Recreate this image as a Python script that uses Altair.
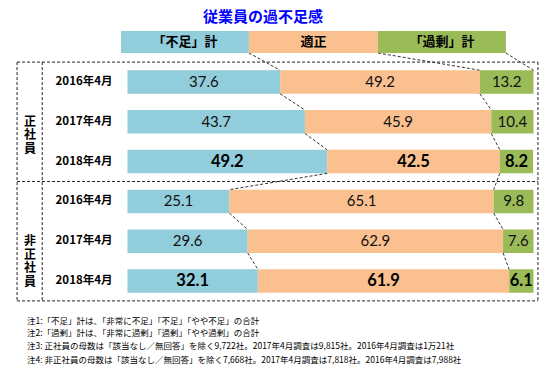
import altair as alt
import pandas as pd

# ---- data ----
periods = ["2016年4月", "2017年4月", "2018年4月", "2016年4月", "2017年4月", "2018年4月"]
shortage = [37.6, 43.7, 49.2, 25.1, 29.6, 32.1]
adequate = [49.2, 45.9, 42.5, 65.1, 62.9, 61.9]
surplus = [13.2, 10.4, 8.2, 9.8, 7.6, 6.1]
bold_rows = [False, False, True, False, False, True]
group_labels = ["正\n社\n員", "非\n正\n社\n員"]
group_center_rows = [1, 4]
header_labels = ["「不足」計", "適正", "「過剰」計"]
title_text = "従業員の過不足感"
notes = [
    "注1:「不足」計は、「非常に不足」「不足」「やや不足」の合計",
    "注2:「過剰」計は、「非常に過剰」「過剰」「やや過剰」の合計",
    "注3: 正社員の母数は「該当なし／無回答」を除く9,722社。2017年4月調査は9,815社。2016年4月調査は1万21社",
    "注4: 非正社員の母数は「該当なし／無回答」を除く7,668社。2017年4月調査は7,818社。2016年4月調査は7,988社",
]

BLUE = "#92CDDC"
ORANGE = "#FAC090"
GREEN = "#9BBB59"
seg_colors = [BLUE, ORANGE, GREEN]
HALF = 0.295  # half bar thickness in row units

# ---- build tables ----
bars = []
for r in range(6):
    vals = [shortage[r], adequate[r], surplus[r]]
    start = 0.0
    for k, v in enumerate(vals):
        end = min(start + v, 100.0)
        bars.append(dict(row=r, y0=r - HALF, y1=r + HALF, x0=start, x1=end,
                         mid=(start + end) / 2, label=f"{v:.1f}", seg=k,
                         color=seg_colors[k], bold=bold_rows[r]))
        start = end
bars_df = pd.DataFrame(bars)

# connectors between consecutive rows
conn = []
for r in range(5):
    b_now = [shortage[r], shortage[r] + adequate[r]]
    b_next = [shortage[r + 1], shortage[r + 1] + adequate[r + 1]]
    for a, b in zip(b_now, b_next):
        conn.append(dict(x=a, x2=b, y=r + HALF, y2=r + 1 - HALF))
# header to first row
hdr_edges = [-1.6, 29.9, 61.7, 93.2]
hdr_top, hdr_bot = -1.281, -0.729
first_b = [shortage[0], shortage[0] + adequate[0], 100.0]
for a, b in zip(hdr_edges[1:], first_b):
    conn.append(dict(x=a, x2=b, y=hdr_bot, y2=-HALF))
conn_df = pd.DataFrame(conn)

# dashed frame
BX_L, BX_IN, BX_R = -27.2, -21.0, 101.1
BY_T, BY_M, BY_B = -0.5, 2.5, 5.5
frame_df = pd.DataFrame([
    dict(x=BX_L, x2=BX_R, y=BY_T, y2=BY_T),
    dict(x=BX_L, x2=BX_R, y=BY_M, y2=BY_M),
    dict(x=BX_L, x2=BX_R, y=BY_B, y2=BY_B),
    dict(x=BX_L, x2=BX_L, y=BY_T, y2=BY_B),
    dict(x=BX_IN, x2=BX_IN, y=BY_T, y2=BY_B),
    dict(x=BX_R, x2=BX_R, y=BY_T, y2=BY_B),
])

header_df = pd.DataFrame([
    dict(x0=hdr_edges[i], x1=hdr_edges[i + 1], y0=hdr_top, y1=hdr_bot,
         mid=(hdr_edges[i] + hdr_edges[i + 1]) / 2, ymid=(hdr_top + hdr_bot) / 2,
         label=header_labels[i], color=seg_colors[i])
    for i in range(3)
])

period_df = pd.DataFrame(dict(row=list(range(6)), label=periods, x=[-10.7] * 6))
group_df = pd.DataFrame(dict(row=group_center_rows, label=group_labels, x=[-24.0, -24.0]))
notes_df = pd.DataFrame(dict(label=notes, x=[-24.75] * 4, y=[6.005, 6.307, 6.633, 6.985]))
title_df = pd.DataFrame(dict(label=[title_text], x=[33.4], y=[-1.64]))

X = alt.Scale(domain=[-29.43, 102.34], nice=False, zero=False)
Y = alt.Scale(domain=[-1.859, 7.362], reverse=True, nice=False, zero=False)

def xq(f):
    return alt.X(f, type="quantitative", scale=X, axis=None)

def yq(f):
    return alt.Y(f, type="quantitative", scale=Y, axis=None)

bar_layer = alt.Chart(bars_df).mark_rect().encode(
    x=xq("x0"), x2="x1", y=yq("y0"), y2="y1",
    color=alt.Color("color:N", scale=None))

num_font = "Lato"
txt_norm = alt.Chart(bars_df).transform_filter("!datum.bold").mark_text(
    font=num_font, fontSize=15, color="#111111", baseline="middle").encode(
    x=xq("mid"), y=yq("row"), text="label:N")
txt_bold = alt.Chart(bars_df).transform_filter("datum.bold").mark_text(
    font=num_font, fontSize=16.5, fontWeight="bold", color="#000000", baseline="middle").encode(
    x=xq("mid"), y=yq("row"), text="label:N")

conn_layer = alt.Chart(conn_df).mark_rule(color="#333333", strokeDash=[3, 2], strokeWidth=1).encode(
    x=xq("x"), x2="x2", y=yq("y"), y2="y2")
frame_layer = alt.Chart(frame_df).mark_rule(color="#222222", strokeDash=[3, 2], strokeWidth=1).encode(
    x=xq("x"), x2="x2", y=yq("y"), y2="y2")

header_rect = alt.Chart(header_df).mark_rect().encode(
    x=xq("x0"), x2="x1", y=yq("y0"), y2="y1", color=alt.Color("color:N", scale=None))
header_txt = alt.Chart(header_df).mark_text(
    font="Noto Sans CJK JP", fontSize=13, fontWeight="bold", color="#000000", baseline="middle").encode(
    x=xq("mid"), y=yq("ymid"), text="label:N")

period_txt = alt.Chart(period_df).mark_text(
    font="Noto Sans CJK JP", fontSize=11.5, fontWeight="bold", color="#000000", baseline="middle").encode(
    x=xq("x"), y=yq("row"), text="label:N")
group_txt = alt.Chart(group_df).mark_text(
    font="Noto Sans CJK JP", fontSize=12, fontWeight="bold", color="#000000",
    baseline="middle", lineBreak="\n", lineHeight=13.5).encode(
    x=xq("x"), y=yq("row"), text="label:N")
notes_txt = alt.Chart(notes_df).mark_text(
    font="Noto Sans CJK JP", fontSize=8.5, color="#000000", align="left", baseline="middle").encode(
    x=xq("x"), y=yq("y"), text="label:N")
title_txt = alt.Chart(title_df).mark_text(
    font="Noto Sans CJK JP", fontSize=15, fontWeight="bold", color="#0000FF", baseline="middle").encode(
    x=xq("x"), y=yq("y"), text="label:N")

chart = alt.layer(
    frame_layer, bar_layer, conn_layer, txt_norm, txt_bold,
    header_rect, header_txt, period_txt, group_txt, notes_txt, title_txt
).properties(
    width=535, height=367, padding=0,
    autosize=alt.AutoSizeParams(type="none"),
    background="white",
).configure_view(stroke=None)

chart.save("out.html", embed_options={"renderer": "svg", "actions": False})
